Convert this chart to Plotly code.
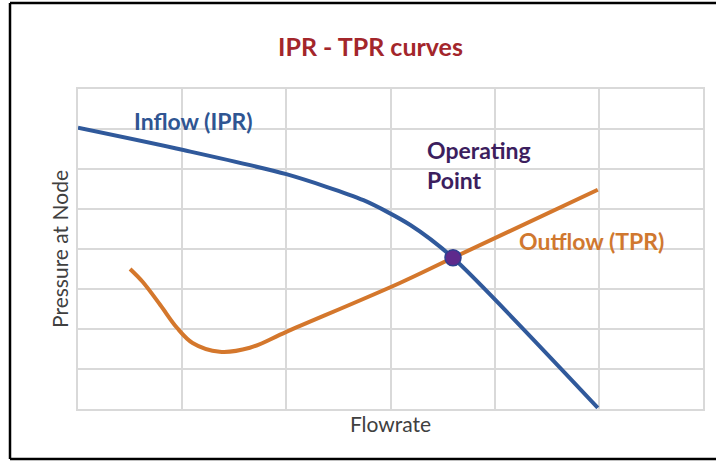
import plotly.graph_objects as go

# IPR (inflow) curve: flowrate vs pressure at node
ipr_q = [0.0, 1.0, 2.0, 2.74, 3.19, 3.6, 4.99]
ipr_p = [7.03, 6.48, 5.87, 5.22, 4.6, 3.78, 0.03]

# TPR (outflow) curve
tpr_q = [0.5, 0.62, 0.79, 0.95, 1.10, 1.36, 1.65, 2.0, 3.09, 3.6, 4.99]
tpr_p = [3.5, 3.18, 2.6, 2.03, 1.65, 1.43, 1.53, 1.93, 3.15, 3.78, 5.48]

# operating point
op_q = [3.6]
op_p = [3.78]

FONT = "Lato"
BLUE = "#30599B"
ORANGE = "#D4772C"
PURPLE = "#5E2A8C"
GRID = "#D9D9D9"

fig = go.Figure()
fig.add_trace(go.Scatter(x=ipr_q, y=ipr_p, mode="lines",
                         line=dict(color=BLUE, width=4, shape="spline", smoothing=0.7),
                         hoverinfo="skip", showlegend=False))
fig.add_trace(go.Scatter(x=tpr_q, y=tpr_p, mode="lines",
                         line=dict(color=ORANGE, width=4, shape="spline", smoothing=1),
                         hoverinfo="skip", showlegend=False))
fig.add_trace(go.Scatter(x=op_q, y=op_p, mode="markers",
                         marker=dict(color=PURPLE, size=16, line=dict(color="#2E3F8F", width=1.5)),
                         hoverinfo="skip", showlegend=False))

fig.add_annotation(x=1.11, y=7.2, text="<b>Inflow (IPR)</b>", showarrow=False,
                   font=dict(family=FONT, size=23, color="#2F5592"))
fig.add_annotation(x=3.33, y=6.11, text="<b>Operating<br>Point</b>", showarrow=False,
                   xanchor="left", align="left",
                   font=dict(family=FONT, size=23, color="#3C1E5E"))
fig.add_annotation(x=4.93, y=4.2, text="<b>Outflow (TPR)</b>", showarrow=False,
                   font=dict(family=FONT, size=23, color="#D0782F"))

# outer frame: left, top and bottom edges only (right edge is outside the picture)
FL, FR, FB, FT = -0.1088, 1.1, -0.156, 1.26875
frame = dict(type="line", xref="paper", yref="paper",
             line=dict(color="black", width=2.5), layer="below")
fig.add_shape(x0=FL, x1=FL, y0=FB, y1=FT, **frame)
fig.add_shape(x0=FL, x1=FR, y0=FT, y1=FT, **frame)
fig.add_shape(x0=FL, x1=FR, y0=FB, y1=FB, **frame)

axis_common = dict(showticklabels=False, ticks="", showgrid=True, gridcolor=GRID,
                   gridwidth=1.5, zeroline=False, showline=True, linecolor=GRID,
                   linewidth=1.5, mirror=True, dtick=1, automargin=False)

fig.update_layout(
    width=716, height=461,
    margin=dict(l=78, r=13, t=89, b=52),
    paper_bgcolor="white", plot_bgcolor="white",
    title=dict(text="<b>IPR - TPR curves</b>", x=0.468, xref="paper", xanchor="center",
               y=1 - 47 / 461, yanchor="middle",
               font=dict(family=FONT, size=25, color="#A3262B")),
    xaxis=dict(range=[0, 6], title=dict(text="Flowrate", standoff=8,
               font=dict(family=FONT, size=21, color="#404040")), **axis_common),
    yaxis=dict(range=[0, 8], title=dict(text="Pressure at Node", standoff=2,
               font=dict(family=FONT, size=21, color="#404040")), **axis_common),
)

fig.write_html("out.html", config={"displayModeBar": False},
               post_script="document.body.style.margin='0';")
